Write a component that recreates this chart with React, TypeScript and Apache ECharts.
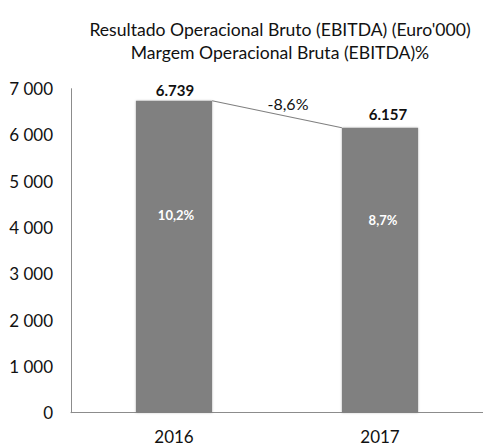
import React, { useEffect, useRef } from "react";
import * as echarts from "echarts";

const categories = ["2016", "2017"];
const ebitda = [6739, 6157];
const margins = [10.2, 8.7];
const changePct = [-8.6];
const yMax = 7000;
const yStep = 1000;

const FONT = "Lato, 'Open Sans', sans-serif";
const BAR_RATIO = 0.37;

const fmtComma = (v: number) => v.toFixed(1).replace(".", ",") + "%";
const fmtThousandDot = (v: number) =>
  String(Math.round(v)).replace(/\B(?=(\d{3})+(?!\d))/g, ".");
const fmtThousandSpace = (v: number) =>
  String(Math.round(v)).replace(/\B(?=(\d{3})+(?!\d))/g, " ");

const topOffsets: [number, number][] = [[1, 0], [8, -3]];
const innerOffsets: [number, number][] = [[2, -42], [3, -50]];

export default function App() {
  const ref = useRef<HTMLDivElement>(null);
  useEffect(() => {
    if (!ref.current) return;
    const chart = echarts.init(ref.current, undefined, { renderer: "svg" });
    const option: any = {
      animation: false,
      backgroundColor: "#ffffff",
      title: {
        text:
          "Resultado Operacional Bruto (EBITDA) (Euro'000)\nMargem Operacional Bruta (EBITDA)%",
        left: 275,
        top: 13,
        textAlign: "center",
        textStyle: {
          fontFamily: FONT,
          fontSize: 17.6,
          fontWeight: "normal",
          color: "#111",
          lineHeight: 23,
        },
      },
      grid: { left: 71, right: -6, top: 88.7, bottom: 34.3, containLabel: false },
      xAxis: {
        type: "category",
        data: categories,
        axisLine: { show: true, lineStyle: { color: "#8c8c8c", width: 1 } },
        axisTick: { show: false },
        axisLabel: {
          fontFamily: FONT,
          fontSize: 17,
          color: "#111",
          margin: 15,
        },
      },
      yAxis: {
        type: "value",
        min: 0,
        max: yMax,
        interval: yStep,
        splitLine: { show: false },
        axisLine: { show: true, lineStyle: { color: "#8c8c8c", width: 1 } },
        axisTick: { show: false },
        axisLabel: {
          fontFamily: FONT,
          fontSize: 17,
          color: "#111",
          margin: 18,
          formatter: (v: number) => fmtThousandSpace(v),
        },
      },
      series: [
        {
          type: "bar",
          barWidth: BAR_RATIO * 100 + "%",
          data: ebitda.map((v, i) => ({
            value: v,
            label: { offset: topOffsets[i] },
          })),
          itemStyle: {
            color: "#808080",
            shadowBlur: 2,
            shadowColor: "rgba(0,0,0,0.25)",
          },
          label: {
            show: true,
            position: "top",
            distance: 3,
            fontFamily: FONT,
            fontSize: 15,
            fontWeight: "bold",
            color: "#111",
            formatter: (p: any) => fmtThousandDot(p.value),
          },
        },
        {
          type: "bar",
          barWidth: BAR_RATIO * 100 + "%",
          barGap: "-100%",
          silent: true,
          data: ebitda.map((v, i) => ({
            value: v,
            label: { offset: innerOffsets[i] },
          })),
          itemStyle: { color: "rgba(0,0,0,0)" },
          label: {
            show: true,
            position: "inside",
            fontFamily: FONT,
            fontSize: 13,
            fontWeight: "bold",
            color: "#ffffff",
            formatter: (p: any) => fmtComma(margins[p.dataIndex]),
          },
          z: 3,
        },
        {
          type: "custom",
          data: [[0, ebitda[0], 1, ebitda[1], changePct[0]]],
          renderItem: (params: any, api: any) => {
            const p1 = api.coord([api.value(0), api.value(1)]);
            const p2 = api.coord([api.value(2), api.value(3)]);
            const band = api.size([1, 0])[0];
            const half = (band * BAR_RATIO) / 2;
            const x1 = p1[0] + half;
            const x2 = p2[0] - half;
            return {
              type: "group",
              children: [
                {
                  type: "line",
                  shape: { x1, y1: p1[1], x2, y2: p2[1] },
                  style: { stroke: "#808080", lineWidth: 1.2 },
                },
                {
                  type: "text",
                  x: (x1 + x2) / 2 + 11,
                  y: (p1[1] + p2[1]) / 2 - 11,
                  style: {
                    text: fmtComma(api.value(4)),
                    align: "center",
                    verticalAlign: "middle",
                    fontFamily: FONT,
                    fontSize: 16,
                    fill: "#111",
                  },
                },
              ],
            };
          },
          z: 4,
        },
      ],
    };
    chart.setOption(option);
    return () => chart.dispose();
  }, []);
  return (
    <div
      ref={ref}
      style={{ position: "fixed", left: 0, top: 0, width: 483, height: 447 }}
    />
  );
}
